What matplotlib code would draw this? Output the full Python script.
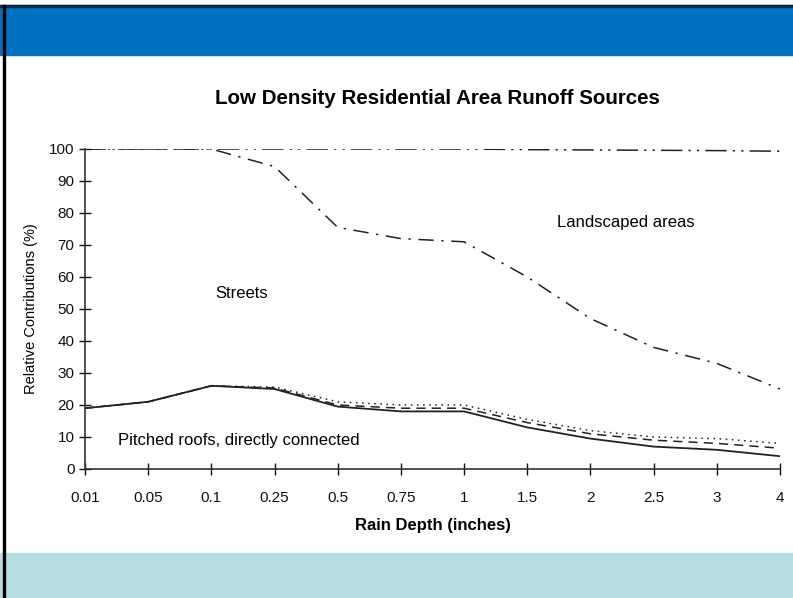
import matplotlib.pyplot as plt
from matplotlib.patches import Rectangle

plt.rcParams['font.family'] = ['Liberation Sans', 'DejaVu Sans']

# data
depths = ["0.01", "0.05", "0.1", "0.25", "0.5", "0.75", "1", "1.5", "2", "2.5", "3", "4"]
roofs = [19, 21, 26, 25, 19.5, 18, 18, 13, 9.5, 7, 6, 4]
roofs_dashed = [19, 21, 26, 25.3, 20, 19, 19, 14.5, 11, 9, 8, 6.5]
roofs_dotted = [19, 21, 26, 25.6, 21, 20, 20, 15.5, 12, 10, 9.5, 8]
streets = [100, 100, 100, 94.5, 75.5, 72, 71, 60, 47, 38, 33, 25]
landscaped = [100, 100, 100, 100, 100, 100, 100, 99.8, 99.7, 99.6, 99.5, 99.3]

x = list(range(len(depths)))

fig = plt.figure(figsize=(7.93, 5.98), dpi=100)

# slide decoration: blue header, light footer, left frame line
fig.patches.append(Rectangle((0, 1 - 55 / 598), 1, 50 / 598, transform=fig.transFigure,
                             color="#0070C0", zorder=0))
fig.patches.append(Rectangle((0, 1 - 7 / 598), 1, 2 / 598, transform=fig.transFigure,
                             color="#0a2a50", zorder=1))
fig.patches.append(Rectangle((0, 0), 1, 45 / 598, transform=fig.transFigure,
                             color="#B7DFE3", zorder=0))
fig.patches.append(Rectangle((3 / 793, 0), 2 / 793, 1 - 5 / 598, transform=fig.transFigure,
                             color="black", zorder=2))

ax = fig.add_axes([85 / 793, 1 - 469 / 598, 695 / 793, 320 / 598])

ax.plot(x, roofs, color="#222222", lw=1.3, ls="-")
ax.plot(x, roofs_dashed, color="#222222", lw=1.1, ls=(0, (6, 4)))
ax.plot(x, roofs_dotted, color="#222222", lw=1.1, ls=(0, (1, 3)))
ax.plot(x, streets, color="#222222", lw=1.1, ls=(0, (10, 5, 1.5, 5)))
ax.plot(x, landscaped, color="#222222", lw=1.1, ls=(0, (14, 4, 1.5, 4, 1.5, 4)))

ax.set_xlim(0, 11)
ax.set_ylim(0, 100)
ax.set_xticks(x)
ax.set_xticklabels(depths)
ax.set_yticks(range(0, 101, 10))

for s in ["top", "right"]:
    ax.spines[s].set_visible(False)
for s in ["left", "bottom"]:
    ax.spines[s].set_color("#333333")
    ax.spines[s].set_linewidth(1.2)
ax.tick_params(direction="inout", length=8, width=1, labelsize=11, colors="#111111")
ax.tick_params(axis="x", pad=12)

ax.text(2.06, 55, "Streets", fontsize=12, va="center")
ax.text(7.47, 77, "Landscaped areas", fontsize=12, va="center")
ax.text(0.52, 9, "Pitched roofs, directly connected", fontsize=12, va="center")

fig.text(437 / 793, 1 - 98 / 598, "Low Density Residential Area Runoff Sources",
         fontsize=14.8, fontweight="bold", ha="center", va="center")
ax.set_xlabel("Rain Depth (inches)", fontsize=12, fontweight="bold", labelpad=9)
ax.set_ylabel("Relative Contributions (%)", fontsize=10.5, labelpad=8)

fig.savefig("out.png", dpi=100)
